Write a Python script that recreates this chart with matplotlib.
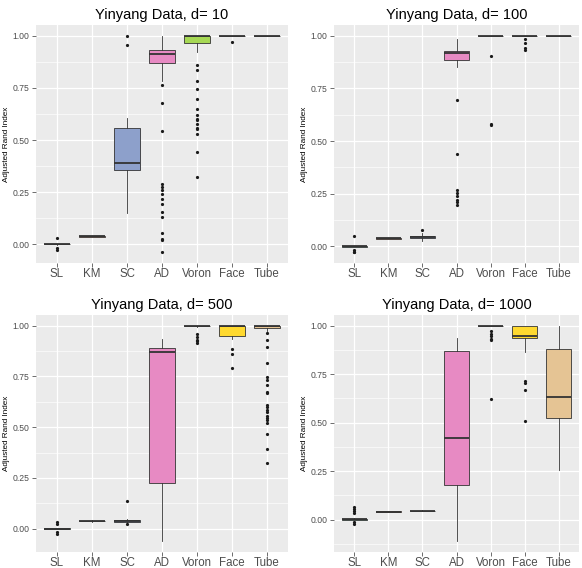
import numpy as np
import matplotlib
matplotlib.use("Agg")
import matplotlib.pyplot as plt
from matplotlib.ticker import MultipleLocator

plt.rcParams['font.family'] = ['Liberation Sans', 'DejaVu Sans']

methods = ['SL', 'KM', 'SC', 'AD', 'Voron', 'Face', 'Tube']
colors = ['#66C2A5', '#FC8D62', '#8DA0CB', '#E78AC3', '#A6D854', '#FFD92F', '#E5C494']
dims = [10, 100, 500, 1000]

# box summaries per method: (whisker low, q1, median, q3, whisker high)
d10_box = [(-0.002, -0.001, 0.0, 0.001, 0.002), (0.034, 0.036, 0.038, 0.039, 0.041),
           (0.149, 0.355, 0.392, 0.557, 0.605), (0.781, 0.869, 0.914, 0.930, 1.0),
           (0.92, 0.965, 1.0, 1.0, 1.0), (1.0, 1.0, 1.0, 1.0, 1.0), (1.0, 1.0, 1.0, 1.0, 1.0)]
d10_out = [[0.032, -0.02, -0.026], [], [1.0, 0.957],
           [0.765, 0.677, 0.544, 0.29, 0.274, 0.258, 0.242, 0.218, 0.194, 0.157, 0.133,
            0.053, 0.024, 0.02, -0.038],
           [0.858, 0.837, 0.781, 0.744, 0.696, 0.648, 0.618, 0.6, 0.594, 0.578, 0.557,
            0.552, 0.528, 0.445, 0.325],
           [0.968], []]

d100_box = [(-0.002, -0.001, 0.0, 0.001, 0.002), (0.035, 0.036, 0.038, 0.039, 0.041),
            (0.028, 0.038, 0.043, 0.05, 0.063), (0.854, 0.885, 0.918, 0.93, 0.984),
            (1.0, 1.0, 1.0, 1.0, 1.0), (1.0, 1.0, 1.0, 1.0, 1.0), (1.0, 1.0, 1.0, 1.0, 1.0)]
d100_out = [[0.05, -0.019, -0.024, -0.027], [], [0.076],
            [0.693, 0.44, 0.269, 0.256, 0.24, 0.222, 0.209, 0.195],
            [0.902, 0.582, 0.576], [0.984, 0.968, 0.94, 0.934], []]

d500_box = [(-0.002, -0.001, 0.0, 0.001, 0.002), (0.035, 0.036, 0.038, 0.039, 0.041),
            (0.03, 0.035, 0.039, 0.045, 0.05), (-0.062, 0.223, 0.872, 0.892, 0.934),
            (0.996, 0.998, 1.0, 1.0, 1.0), (0.935, 0.951, 1.0, 1.0, 1.0),
            (0.975, 0.99, 1.0, 1.0, 1.0)]
d500_out = [[0.031, 0.023, -0.015, -0.025], [], [0.134, 0.023], [],
            [0.959, 0.943, 0.93, 0.926, 0.913], [0.884, 0.861, 0.79],
            [0.966, 0.93, 0.897, 0.815, 0.746, 0.733, 0.708, 0.675, 0.667, 0.61, 0.598,
             0.585, 0.577, 0.556, 0.544, 0.536, 0.52, 0.467, 0.392, 0.326]]

d1000_box = [(-0.005, -0.001, 0.002, 0.003, 0.008), (0.038, 0.04, 0.041, 0.042, 0.044),
             (0.042, 0.044, 0.045, 0.046, 0.048), (-0.112, 0.180, 0.421, 0.871, 0.936),
             (1.0, 1.0, 1.0, 1.0, 1.0), (0.863, 0.935, 0.945, 1.0, 1.0),
             (0.254, 0.522, 0.632, 0.880, 1.0)]
d1000_out = [[0.065, 0.055, 0.043, 0.034, -0.015, -0.021], [], [], [],
             [0.971, 0.959, 0.948, 0.931, 0.924, 0.622], [0.713, 0.704, 0.670, 0.507], []]

boxes = [d10_box, d100_box, d500_box, d1000_box]
outs = [d10_out, d100_out, d500_out, d1000_out]

W, H = 582, 568
fig = plt.figure(figsize=(W / 100, H / 100), dpi=100)

# panel rectangles in pixels: left, top, right, bottom
rects = [(36, 25, 288, 263), (334, 25, 579, 263),
         (36, 315, 288, 552), (334, 315, 579, 552)]

for k in range(4):
    l, t, r, b = rects[k]
    ax = fig.add_axes([l / W, 1 - b / H, (r - l) / W, (b - t) / H])
    ax.set_facecolor('#EBEBEB')
    for s in ax.spines.values():
        s.set_visible(False)

    stats = []
    for i, m in enumerate(methods):
        lo, q1, med, q3, hi = boxes[k][i]
        stats.append(dict(label=m, whislo=lo, q1=q1, med=med, q3=q3, whishi=hi,
                          fliers=outs[k][i]))
    bp = ax.bxp(stats, positions=range(1, 8), widths=0.75, patch_artist=True,
                showcaps=False,
                boxprops=dict(edgecolor='#333333', linewidth=0.6),
                whiskerprops=dict(color='#333333', linewidth=0.6),
                medianprops=dict(color='#333333', linewidth=1.3),
                flierprops=dict(marker='o', markersize=2.3, markerfacecolor='#1A1A1A',
                                markeredgecolor='none'))
    for patch, c in zip(bp['boxes'], colors):
        patch.set_facecolor(c)
    for ln in bp['medians'] + bp['whiskers'] + bp['boxes'] + bp['fliers']:
        ln.set_zorder(3)

    vals = [v for bx in boxes[k] for v in bx] + [v for o in outs[k] for v in o]
    lo, hi = min(vals), max(vals)
    pad = 0.05 * (hi - lo)
    ax.set_ylim(lo - pad, hi + pad)
    ax.set_xlim(0.4, 7.6)

    ax.yaxis.set_minor_locator(MultipleLocator(0.125))
    ax.set_yticks([0, 0.25, 0.5, 0.75, 1.0])
    ax.set_yticklabels(['0.00', '0.25', '0.50', '0.75', '1.00'])
    ax.set_xticks(range(1, 8))
    ax.set_xticklabels(methods)
    ax.grid(which='major', color='white', linewidth=0.9, zorder=0)
    ax.grid(which='minor', axis='y', color='white', linewidth=0.45, zorder=0)
    ax.set_axisbelow(True)
    ax.tick_params(axis='x', which='major', labelsize=8.3, colors='#333333',
                   labelcolor='#4D4D4D', length=2.75, width=0.5, pad=1)
    ax.tick_params(axis='y', which='major', labelsize=6.2, colors='#333333',
                   labelcolor='#4D4D4D', length=2.75, width=0.5, pad=2)
    ax.tick_params(axis='y', which='minor', length=0)
    ax.set_ylabel('Adjusted Rand Index', fontsize=5.9, color='black', labelpad=1.5)
    ax.set_title('Yinyang Data, d= %d' % dims[k], fontsize=10.5, color='black', pad=4)

fig.savefig('out.png', dpi=100)
